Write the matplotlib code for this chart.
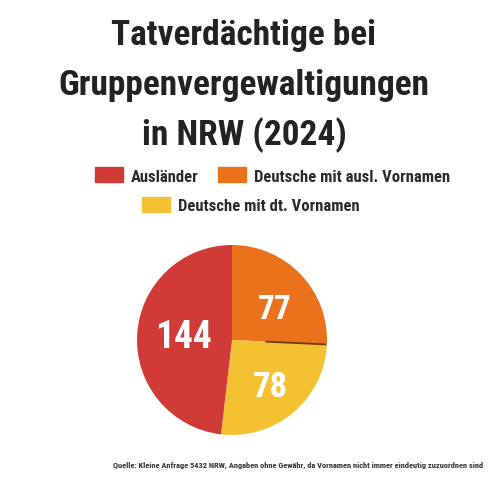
import os
import numpy as np
import matplotlib
matplotlib.use("Agg")
import matplotlib.pyplot as plt
from matplotlib import font_manager as fm

title_lines = ["Tatverdächtige bei", "Gruppenvergewaltigungen", "in NRW (2024)"]
categories = ["Ausländer", "Deutsche mit ausl. Vornamen", "Deutsche mit dt. Vornamen"]
values = [144, 77, 78]
colors = ["#d13b36", "#e9721b", "#f3c132"]
source = ("Quelle: Kleine Anfrage 5432 NRW, Angaben ohne Gewähr, da Vornamen "
          "nicht immer eindeutig zuzuordnen sind")


def condensed_font():
    """Return FontProperties for the narrowest bold face that is installed."""
    prefs = ["Oswald-Bold", "Oswald-SemiBold", "RobotoCondensed-Bold",
             "RobotoCondensed-Medium", "LiberationSansNarrow-Bold",
             "OpenSans-CondBold", "OpenSans_Condensed-Bold",
             "DejaVuSansCondensed-Bold", "NotoSans-CondensedBold",
             "NotoSans-CondensedSemiBold"]
    paths = set(fm.findSystemFonts()) | {f.fname for f in fm.fontManager.ttflist}
    by_stem = {os.path.splitext(os.path.basename(p))[0]: p for p in paths}
    for stem in prefs:
        if stem in by_stem:
            return fm.FontProperties(fname=by_stem[stem])
    return fm.FontProperties(family="DejaVu Sans", weight="bold", stretch="condensed")


FP = condensed_font()
W, H = 488, 480
fig = plt.figure(figsize=(W / 100, H / 100), dpi=100)
fig.patch.set_facecolor("white")


def fx(px):
    return px / W


def fy(py):
    return 1 - py / H


def put(x, y, s, size, color, **kw):
    fp = FP.copy()
    fp.set_size(size)
    return fig.text(fx(x), fy(y), s, fontproperties=fp, color=color, **kw)


# Title, three centred lines
for i, line in enumerate(title_lines):
    put(244, 45 + i * 50, line, 25.5, "#222222", ha="center", va="baseline")

# Pie: orange and yellow clockwise from the top, red fills the rest
cx, cy, r = 232, 340, 95
ax = fig.add_axes([fx(cx - r), fy(cy + r), 2 * r / W, 2 * r / H])
order = [1, 2, 0]
wedges, _ = ax.pie([values[i] for i in order], colors=[colors[i] for i in order],
                   startangle=90, counterclock=False, radius=1,
                   wedgeprops=dict(linewidth=0))
ax.set_xlim(-1, 1)
ax.set_ylim(-1, 1)
ax.set_aspect("equal")
ax.axis("off")

# thin dark seam between the orange and yellow slices
seam = np.deg2rad(wedges[0].theta1)
rr = np.array([0.35, 0.995])
ax.plot(rr * np.cos(seam), rr * np.sin(seam), color="#6e3a12", lw=1.3,
        solid_capstyle="butt")

# Value labels inside the slices (baseline positions)
label_pos = {0: (183, 348), 1: (275, 319), 2: (270, 397)}
label_size = {0: 27, 1: 24, 2: 25}
for i, (px, py) in label_pos.items():
    put(px, py, str(values[i]), label_size[i], "white", ha="center", va="baseline")

# Legend
legend_items = [(0, 95, 175), (1, 218, 175), (2, 142, 204)]
for i, x0, yc in legend_items:
    fig.patches.append(plt.Rectangle((fx(x0), fy(yc + 7.5)), 28 / W, 15 / H,
                                     transform=fig.transFigure, color=colors[i]))
    put(x0 + 36, yc + 7, categories[i], 12, "#2a2a2a", ha="left", va="baseline")

# Source note
put(483, 468, source, 6, "#333333", ha="right", va="baseline")

fig.savefig("out.png", dpi=100, facecolor="white")
